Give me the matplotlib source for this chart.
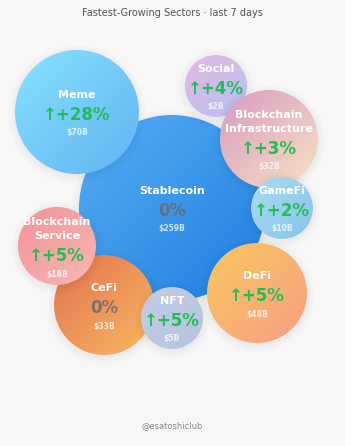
import matplotlib.pyplot as plt
from matplotlib.patches import Circle, Rectangle
import numpy as np

# data
sectors = ["Stablecoin", "Meme", "Social", "Blockchain\nInfrastructure", "GameFi",
           "CeFi", "Blockchain\nService", "NFT", "DeFi"]
change_pct = [0, 28, 4, 3, 2, 0, 5, 5, 5]
market_cap_b = [259, 70, 2, 32, 10, 33, 18, 5, 48]

# layout in pixels (x, y, radius) and gradient colours (top-left, bottom-right)
layout = [(172, 208, 93), (77, 112, 62), (216, 86, 31), (269, 139, 49), (282, 208, 31),
          (104, 305, 50), (57, 246, 39), (172, 318, 31), (257, 293, 50)]
colors = [("#55adf5", "#1f7fe0"), ("#86e2ff", "#62b3f2"), ("#e6b6e6", "#b4c2f0"),
          ("#d99bc2", "#f7e2c2"), ("#a6dcf3", "#8ac4e8"), ("#e2734e", "#f9b862"),
          ("#f29398", "#f9b7b3"), ("#c2cde2", "#b4c4df"), ("#f9c85e", "#f89e84")]

W, H = 358, 446
fig = plt.figure(figsize=(W / 100, H / 100), dpi=100)
fig.patch.set_facecolor("white")
ax = fig.add_axes([0, 0, 1, 1])
ax.set_xlim(0, W)
ax.set_ylim(H, 0)
ax.axis("off")

ax.add_patch(Rectangle((0, 0), 344, H, color="#f7f7f8", zorder=0))

ax.text(172, 13, "Fastest-Growing Sectors \u00b7 last 7 days", ha="center", va="center",
        fontsize=7, color="#555555")
ax.text(172, 426, "@esatoshiclub", ha="center", va="center", fontsize=6, color="#888888")


def gradient(c1, c2, n=64):
    a = np.array(plt.matplotlib.colors.to_rgb(c1))
    b = np.array(plt.matplotlib.colors.to_rgb(c2))
    u, v = np.meshgrid(np.linspace(0, 1, n), np.linspace(0, 1, n))
    t = ((u + v) / 2)[..., None]
    return a * (1 - t) + b * t


z = 1
for name, pct, cap, (cx, cy, r), (c1, c2) in zip(sectors, change_pct, market_cap_b, layout, colors):
    # soft shadow
    for s in [7, 5, 3, 1]:
        ax.add_patch(Circle((cx, cy + 2), r + s, color="black", alpha=0.012, lw=0, zorder=z))
    circ = Circle((cx, cy), r, facecolor="none", edgecolor="none", zorder=z + 1)
    ax.add_patch(circ)
    im = ax.imshow(gradient(c1, c2), extent=(cx - r, cx + r, cy + r, cy - r),
                   zorder=z + 1, interpolation="bilinear")
    im.set_clip_path(circ)

    lines = name.split("\n")
    total = (len(lines) - 1) * 14 + 20 + 18
    y = cy - total / 2 + 2
    for ln in lines:
        ax.text(cx, y, ln, ha="center", va="center", fontsize=8, fontweight="bold",
                color="white", zorder=z + 2)
        y += 14
    y += 6
    if pct > 0:
        ax.text(cx, y, f"\u2191+{pct}%", ha="center", va="center", fontsize=12,
                fontweight="bold", color="#1fbf55", zorder=z + 2)
    else:
        ax.text(cx, y, f"{pct}%", ha="center", va="center", fontsize=12,
                fontweight="bold", color="#6b6b6b", alpha=0.85, zorder=z + 2)
    y += 18
    ax.text(cx, y, f"${cap}B", ha="center", va="center", fontsize=5.5, fontweight="bold",
            color="white", alpha=0.75, zorder=z + 2)
    z += 3

ax.set_xlim(0, W)
ax.set_ylim(H, 0)
fig.savefig("out.png", dpi=100)
